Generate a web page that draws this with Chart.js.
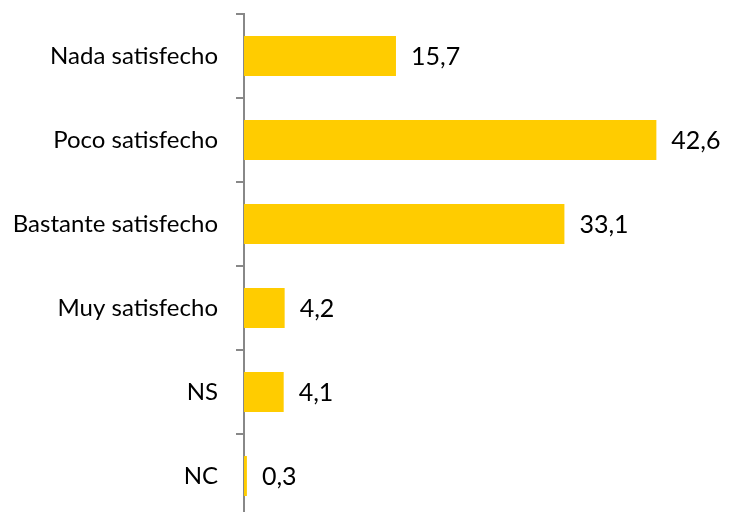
<!DOCTYPE html>
<html>
<head>
<meta charset="utf-8">
<script src="https://cdn.jsdelivr.net/npm/chart.js@4/dist/chart.umd.min.js"></script>
<style>
  html, body { margin: 0; padding: 0; background: #fff; overflow: hidden; }
  #wrap { position: relative; width: 730px; height: 520px; }
</style>
</head>
<body>
<div id="wrap"><canvas id="grafico"></canvas></div>
<script>
const categorias = ["Nada satisfecho", "Poco satisfecho", "Bastante satisfecho", "Muy satisfecho", "NS", "NC"];
const valores = [15.7, 42.6, 33.1, 4.2, 4.1, 0.3];
const ejeMax = 50;

const fuente = "Lato, 'Open Sans', sans-serif";
const fmt = (v) => v.toFixed(1).replace('.', ',');

// etiqueta con el valor al final de cada barra
const etiquetas = {
    id: 'etiquetas',
    afterDatasetsDraw(chart) {
        const ctx = chart.ctx;
        const meta = chart.getDatasetMeta(0);
        ctx.save();
        ctx.fillStyle = '#000';
        ctx.font = '25px ' + fuente;
        ctx.textAlign = 'left';
        ctx.textBaseline = 'middle';
        meta.data.forEach((bar, i) => {
            ctx.fillText(fmt(valores[i]), bar.x + 15, bar.y + 1);
        });
        ctx.restore();
    }
};

new Chart(document.getElementById('grafico'), {
    type: 'bar',
    data: {
        labels: categorias,
        datasets: [{ data: valores, backgroundColor: '#FFCC00', borderWidth: 0,
                     barPercentage: 0.476, categoryPercentage: 1 }]
    },
    options: {
        indexAxis: 'y',
        responsive: true,
        maintainAspectRatio: false,
        animation: false,
        layout: { padding: { top: 14, bottom: 2, right: 2, left: 0 } },
        plugins: { legend: { display: false }, tooltip: { enabled: false } },
        scales: {
            x: { display: false, min: 0, max: ejeMax },
            y: {
                afterFit: (s) => { s.width = 244; s.paddingTop = 0; s.paddingBottom = 0; },
                border: { display: true, color: '#888', width: 2 },
                grid: { drawOnChartArea: false, color: '#888', lineWidth: 2, tickLength: 8, offset: true },
                ticks: { color: '#000', font: { family: fuente, size: 24 }, padding: 18 }
            }
        }
    },
    plugins: [etiquetas]
});
</script>
</body>
</html>
